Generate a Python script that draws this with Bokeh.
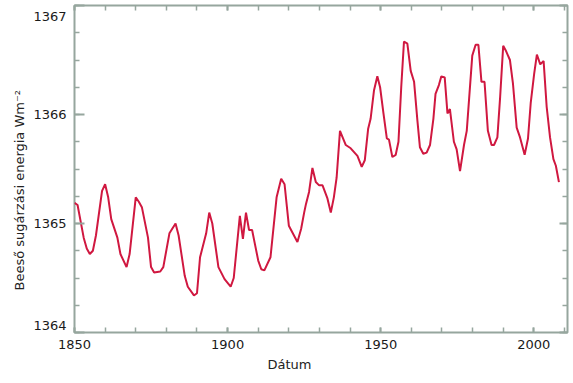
from bokeh.plotting import figure
from bokeh.models import (Range1d, SingleIntervalTicker, FixedTicker, LinearAxis,
                          Title, CustomJSTickFormatter, ColumnDataSource)
from bokeh.embed import file_html
from bokeh.resources import INLINE

years = [1850, 1851, 1853, 1854, 1855, 1856, 1857, 1859, 1860, 1861, 1862, 1864,
         1865, 1867, 1868, 1870, 1871, 1872, 1874, 1875, 1876, 1878, 1879, 1881,
         1883, 1884, 1886, 1887, 1889, 1890, 1891, 1893, 1894, 1895, 1897, 1899,
         1901, 1902, 1904, 1905, 1906, 1907, 1908, 1910, 1911, 1912, 1914, 1916,
         1917.5, 1918.6, 1920, 1922.8, 1924, 1925, 1925.6, 1926.6, 1927.7, 1928.8,
         1929.9, 1931, 1932.6, 1933.7, 1934.7, 1935.6, 1936.7, 1938.6, 1940.2,
         1942.4, 1943.8, 1944.8, 1945.9, 1946.7, 1947.8, 1948.9, 1949.8, 1950.9,
         1952, 1952.7, 1953.8, 1954.9, 1955.8, 1956.7, 1957.6, 1958.7, 1959.8,
         1960.9, 1962, 1962.8, 1963.9, 1965, 1966.1, 1967.2, 1967.9, 1969, 1969.8,
         1970.9, 1971.8, 1972.6, 1973.9, 1974.8, 1975.9, 1977.2, 1978.1, 1979.9,
         1981, 1981.9, 1982.9, 1983.9, 1985, 1986.2, 1987, 1988.1, 1989, 1990,
         1990.8, 1992.2, 1993.2, 1994.4, 1995.5, 1997, 1998.1, 1999, 2000.1, 2001,
         2002.1, 2003.2, 2004.2, 2005.3, 2006.4, 2007.2, 2008.2]

irradiance = [1365.19, 1365.17, 1364.87, 1364.77, 1364.72, 1364.75, 1364.89, 1365.30,
              1365.36, 1365.24, 1365.04, 1364.87, 1364.72, 1364.60, 1364.72, 1365.24,
              1365.20, 1365.15, 1364.87, 1364.60, 1364.55, 1364.56, 1364.60, 1364.91,
              1365.00, 1364.89, 1364.52, 1364.42, 1364.34, 1364.36, 1364.69, 1364.91,
              1365.10, 1365.00, 1364.60, 1364.49, 1364.42, 1364.50, 1365.07, 1364.86,
              1365.10, 1364.94, 1364.94, 1364.66, 1364.58, 1364.57, 1364.69, 1365.24,
              1365.41, 1365.36, 1364.98, 1364.83, 1364.95, 1365.10, 1365.18, 1365.29,
              1365.51, 1365.38, 1365.35, 1365.35, 1365.23, 1365.10, 1365.24, 1365.42,
              1365.85, 1365.72, 1365.69, 1365.62, 1365.52, 1365.58, 1365.87, 1365.96,
              1366.22, 1366.35, 1366.25, 1366.01, 1365.78, 1365.77, 1365.61, 1365.63,
              1365.75, 1366.25, 1366.67, 1366.65, 1366.40, 1366.30, 1365.94, 1365.70,
              1365.64, 1365.65, 1365.72, 1365.96, 1366.19, 1366.27, 1366.35, 1366.34,
              1366.01, 1366.05, 1365.75, 1365.68, 1365.48, 1365.72, 1365.85, 1366.54,
              1366.64, 1366.64, 1366.30, 1366.30, 1365.85, 1365.72, 1365.72, 1365.79,
              1366.16, 1366.63, 1366.59, 1366.50, 1366.28, 1365.88, 1365.79, 1365.63,
              1365.78, 1366.11, 1366.37, 1366.55, 1366.46, 1366.49, 1366.07, 1365.79,
              1365.59, 1365.53, 1365.38]

y_tick_values = [1364, 1365, 1366, 1367]
# where each y tick label sits (the end labels are nudged inside the frame)
y_label_positions = [1364.065, 1365, 1366, 1366.9]

x_title = "Dátum"
y_title = "Beeső sugárzási energia Wm⁻²"

FRAME = "#96a69e"
FONT = "DejaVu Sans"

p = figure(width=571, height=381, output_backend="svg", toolbar_location=None,
           x_range=Range1d(1850, 2011), y_range=Range1d(1364, 1367),
           x_axis_type=None, y_axis_type=None,
           min_border_left=74, min_border_right=4, min_border_top=5,
           min_border_bottom=49)
p.grid.visible = False
p.outline_line_color = FRAME
p.outline_line_width = 2
p.background_fill_color = "white"
p.border_fill_color = "white"

src = ColumnDataSource(dict(x=years, y=irradiance))
p.line("x", "y", source=src, line_color="#d01840", line_width=2)


def tick_axis(ticker, major_len, minor_len, labels):
    ax = LinearAxis(ticker=ticker)
    ax.axis_line_color = None
    ax.major_tick_line_color = FRAME
    ax.minor_tick_line_color = FRAME
    ax.major_tick_line_width = 2
    ax.minor_tick_line_width = 1.5
    ax.major_tick_in = major_len
    ax.major_tick_out = 0
    ax.minor_tick_in = minor_len
    ax.minor_tick_out = 0
    if labels:
        ax.major_label_text_font = FONT
        ax.major_label_text_font_size = "13px"
        ax.major_label_text_color = "#1a1a1a"
    else:
        ax.formatter = CustomJSTickFormatter(code="return ''")
        ax.major_label_standoff = 0
        ax.major_label_text_font_size = "0px"
    return ax


# bottom axis with labels, top axis ticks only
xb = tick_axis(SingleIntervalTicker(interval=50, num_minor_ticks=5), 5, 5, True)
xb.major_label_standoff = 7
p.add_layout(xb, "below")
p.add_layout(tick_axis(SingleIntervalTicker(interval=50, num_minor_ticks=5), 5, 5, False), "above")

# left: ticks-only axis next to the frame, then a labels-only axis
p.add_layout(tick_axis(SingleIntervalTicker(interval=1, num_minor_ticks=4), 10, 5, False), "left")
yl = LinearAxis(ticker=FixedTicker(ticks=y_label_positions))
yl.major_label_overrides = {pos: str(v) for pos, v in zip(y_label_positions, y_tick_values)}
yl.axis_line_color = None
yl.major_tick_line_color = None
yl.minor_tick_line_color = None
yl.major_tick_in = 0
yl.major_tick_out = 0
yl.minor_tick_in = 0
yl.minor_tick_out = 0
yl.major_label_standoff = 8
yl.major_label_text_font = FONT
yl.major_label_text_font_size = "13px"
yl.major_label_text_color = "#1a1a1a"
p.add_layout(yl, "left")

p.add_layout(tick_axis(SingleIntervalTicker(interval=1, num_minor_ticks=4), 8, 5, False), "right")

p.add_layout(Title(text=x_title, align="left", offset=193, standoff=6,
                   text_font=FONT, text_font_size="13px", text_font_style="normal",
                   text_color="#222222"), "below")
p.add_layout(Title(text=y_title, align="left", offset=42, standoff=8,
                   text_font=FONT, text_font_size="13px", text_font_style="normal",
                   text_color="#222222"), "left")

open("out.html", "w").write(file_html(p, INLINE))
